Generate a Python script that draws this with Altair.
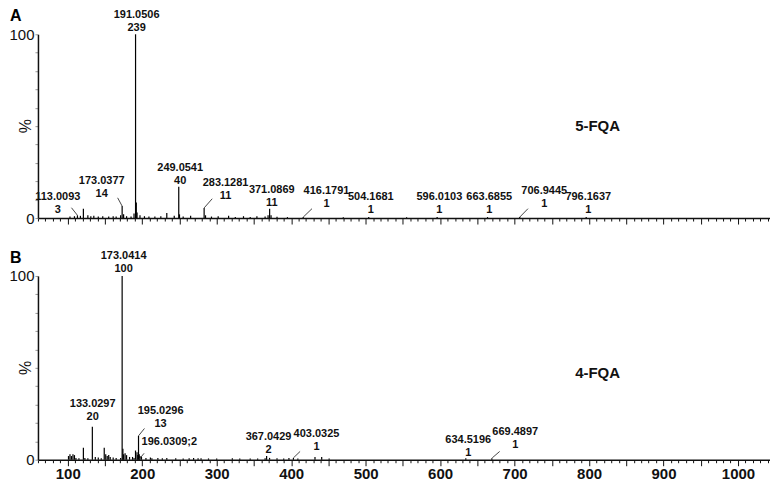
import altair as alt
import pandas as pd

# ---------------- data ----------------
# Panel A : 5-FQA  (m/z, relative intensity %)
a_mz = [103.0, 109.0, 113.0093, 117.0, 121.0, 127.0, 131.0, 135.0, 141.0, 147.0, 155.0, 161.0,
        165.0, 171.0, 173.0377, 175.0, 179.0, 185.0, 189.0, 191.0506, 192.05, 193.05, 197.0,
        203.0, 209.0, 217.0, 225.0, 233.0, 243.0, 249.0541, 250.05, 255.0, 265.0, 283.1281,
        285.0, 293.0, 302.0, 316.0, 325.0, 336.0, 345.0, 354.0, 365.0, 369.0, 371.0869, 373.0,
        381.0, 395.0, 416.1791, 470.0, 504.1681, 555.0, 596.0103, 663.6855, 706.9445, 796.1637]
a_int = [0.8, 1.0, 1.5, 1.2, 5.0, 1.5, 1.0, 1.2, 0.8, 1.0, 0.8, 1.0,
         0.8, 1.5, 6.5, 2.0, 1.0, 0.8, 2.5, 100.0, 8.5, 3.0, 1.5,
         1.0, 0.8, 0.8, 1.0, 2.7, 1.2, 17.0, 2.0, 0.8, 1.2, 5.5,
         1.5, 0.8, 1.0, 1.2, 0.6, 1.0, 0.6, 1.0, 0.8, 1.5, 5.0, 1.5,
         0.7, 0.5, 0.5, 0.4, 0.5, 0.4, 0.5, 0.5, 0.5, 0.5]

# Panel A annotations
a_lab_mass = ["113.0093", "173.0377", "191.0506", "249.0541", "283.1281", "371.0869",
              "416.1791", "504.1681", "596.0103", "663.6855", "706.9445", "796.1637"]
a_lab_count = ["3", "14", "239", "40", "11", "11", "1", "1", "1", "1", "1", "1"]
a_lab_x = [86.6, 145.6, 192.5, 251.0, 311.9, 374.0, 447.4, 507.0, 599.0, 666.0, 739.8, 799.0]
a_lab_y = [4.6, 13.2, 103.5, 20.2, 12.1, 8.3, 7.8, 4.6, 4.6, 4.6, 7.8, 4.6]
a_lead_x = [113.0093, 173.0377, 283.1281, 416.1791, 706.9445]
a_lead_y = [1.5, 6.5, 5.5, 0.5, 0.5]
a_lead_x2 = [105.0, 167.0, 294.0, 428.0, 718.0]
a_lead_y2 = [5.6, 11.0, 10.5, 5.1, 5.1]

# Panel B : 4-FQA
b_mz = [101, 103, 105, 107, 109, 111, 115, 121, 123, 127, 133.0297, 137, 141, 145, 149, 151,
        153, 155, 157, 161, 165, 171, 173.0414, 174.04, 175, 177, 179, 183, 187, 189, 191,
        193, 194, 195.0296, 196.0309, 197, 199, 205, 211, 213, 221, 227, 233, 245, 255, 263,
        269, 275, 279, 289, 300, 321, 331, 345, 355, 365, 367.0429, 371, 381, 390, 397,
        403.0325, 409, 432, 441, 451, 634.5196, 669.4897]
b_int = [2, 3, 2, 3, 2.5, 1, 0.8, 6.5, 1, 0.8, 18, 1.5, 1.2, 0.8, 6.5, 3,
         2, 2.5, 1.5, 1.2, 1, 1, 100, 6, 3, 3.5, 2.5, 1.5, 1.5, 1, 5,
         4, 2.5, 13, 3, 2, 1.5, 1, 1.2, 0.8, 1, 0.8, 1, 0.8, 0.7, 0.8,
         1, 0.8, 0.8, 0.7, 0.6, 0.8, 0.7, 0.7, 0.6, 0.8, 2, 1, 0.8, 0.6, 1,
         1, 0.6, 1.5, 1.5, 0.7, 0.8, 0.8]

b_lab_mass = ["173.0414", "133.0297", "195.0296", "367.0429", "403.0325", "634.5196", "669.4897"]
b_lab_count = ["100", "20", "13", "2", "1", "1", "1"]
b_lab_x = [175.0, 133.5, 224.7, 369.6, 434.0, 637.8, 700.9]
b_lab_y = [104.0, 23.4, 19.6, 5.4, 7.1, 3.8, 8.2]
b_side_text = ["196.0309;2"]
b_side_x = [199.2]
b_side_y = [9.8]
b_lead_x = [195.0296, 196.5, 403.0325, 670.0]
b_lead_y = [13.0, 0.5, 1.0, 1.0]
b_lead_x2 = [203.0, 202.5, 412.0, 680.0]
b_lead_y2 = [17.0, 3.5, 4.5, 4.5]

panel_letters = ["A", "B"]
panel_names = ["5-FQA", "4-FQA"]
name_x = [811.5, 811.5]
name_y = [50.3, 47.3]

x_ticks = list(range(60, 1041, 10))
y_ticks = list(range(0, 101, 10))

# ---------------- style ----------------
FONT = "Liberation Sans"
W, H = 733, 184
xs = alt.Scale(domain=[60, 1043], nice=False, zero=False)
ys = alt.Scale(domain=[0, 100], nice=False)
INK = "#111111"


def x_axis(show_labels):
    return alt.Axis(
        values=x_ticks, format="d", grid=False, title=None,
        labels=show_labels,
        labelExpr="datum.value % 100 === 0 ? datum.label : ''",
        labelOverlap=False, labelFont=FONT, labelFontSize=15, labelFontWeight="bold",
        labelColor=INK, labelPadding=1,
        tickColor=INK, tickWidth=1,
        tickSize={"condition": {"test": "datum.value % 50 === 0", "value": 6}, "value": 3},
        domainColor=INK, domainWidth=1.5,
    )


def y_axis():
    return alt.Axis(
        values=y_ticks, grid=False, title=None,
        labelExpr="(datum.value === 0 || datum.value === 100) ? datum.label : ''",
        labelOverlap=False, labelFont=FONT, labelFontSize=15, labelColor=INK, labelPadding=1,
        tickColor="#999999", tickSize=3, tickWidth=1,
        domainColor=INK, domainWidth=1.5,
    )


def panel(mz, inten, lab_mass, lab_count, lab_x, lab_y, lead_x, lead_y, lead_x2, lead_y2,
          letter, name, nx, ny, show_labels, side=None):
    XA = x_axis(show_labels)
    YA = y_axis()

    def X(f):
        return alt.X(f, scale=xs, axis=XA)

    def Y(f):
        return alt.Y(f, scale=ys, axis=YA)

    peaks = pd.DataFrame({"mz": mz, "i": inten})
    peaks["z"] = 0.0
    rules = alt.Chart(peaks).mark_rule(color="black", strokeWidth=1.2).encode(
        x=X("mz:Q"), y=Y("i:Q"), y2="z:Q")
    labs = pd.DataFrame({"mz": lab_x, "i": lab_y, "m": lab_mass, "c": lab_count})
    txt_kw = dict(font=FONT, fontSize=11, fontWeight="bold", color=INK, baseline="middle")
    line1 = alt.Chart(labs).mark_text(dy=-13, **txt_kw).encode(
        x=X("mz:Q"), y=Y("i:Q"), text="m:N")
    line2 = alt.Chart(labs).mark_text(**txt_kw).encode(
        x=X("mz:Q"), y=Y("i:Q"), text="c:N")
    leads = pd.DataFrame({"mz": lead_x, "i": lead_y, "x2": lead_x2, "y2": lead_y2})
    leaders = alt.Chart(leads).mark_rule(color="#333333", strokeWidth=0.9).encode(
        x=X("mz:Q"), y=Y("i:Q"), x2="x2:Q", y2="y2:Q")
    nm = alt.Chart(pd.DataFrame({"mz": [nx], "i": [ny], "t": [name]})).mark_text(
        font=FONT, fontSize=15, fontWeight="bold", color=INK, baseline="middle").encode(
        x=X("mz:Q"), y=Y("i:Q"), text="t:N")
    let = alt.Chart(pd.DataFrame({"t": [letter]})).mark_text(
        font=FONT, fontSize=16, fontWeight="bold", color="black", align="left",
        baseline="middle").encode(text="t:N", x=alt.value(-28), y=alt.value(-18))
    pct = alt.Chart(pd.DataFrame({"t": ["%"]})).mark_text(
        font=FONT, fontSize=16, color=INK, angle=270, baseline="middle").encode(
        text="t:N", x=alt.value(-12), y=alt.value(H / 2))
    layers = [rules, leaders, line1, line2, nm, let, pct]
    if side is not None:
        st, sx, sy = side
        sd = pd.DataFrame({"mz": sx, "i": sy, "t": st})
        layers.append(alt.Chart(sd).mark_text(align="left", **txt_kw).encode(
            x=X("mz:Q"), y=Y("i:Q"), text="t:N"))
    return alt.layer(*layers).properties(width=W, height=H)


top = panel(a_mz, a_int, a_lab_mass, a_lab_count, a_lab_x, a_lab_y,
            a_lead_x, a_lead_y, a_lead_x2, a_lead_y2,
            panel_letters[0], panel_names[0], name_x[0], name_y[0], False)
bottom = panel(b_mz, b_int, b_lab_mass, b_lab_count, b_lab_x, b_lab_y,
               b_lead_x, b_lead_y, b_lead_x2, b_lead_y2,
               panel_letters[1], panel_names[1], name_x[1], name_y[1], True,
               side=(b_side_text, b_side_x, b_side_y))

chart = alt.vconcat(top, bottom, spacing=23).properties(
    padding={"left": 0, "top": 0, "right": 0, "bottom": 0},
    background="white",
).configure_view(stroke=None)

chart.save("out.html", embed_options={"renderer": "svg", "actions": False})
